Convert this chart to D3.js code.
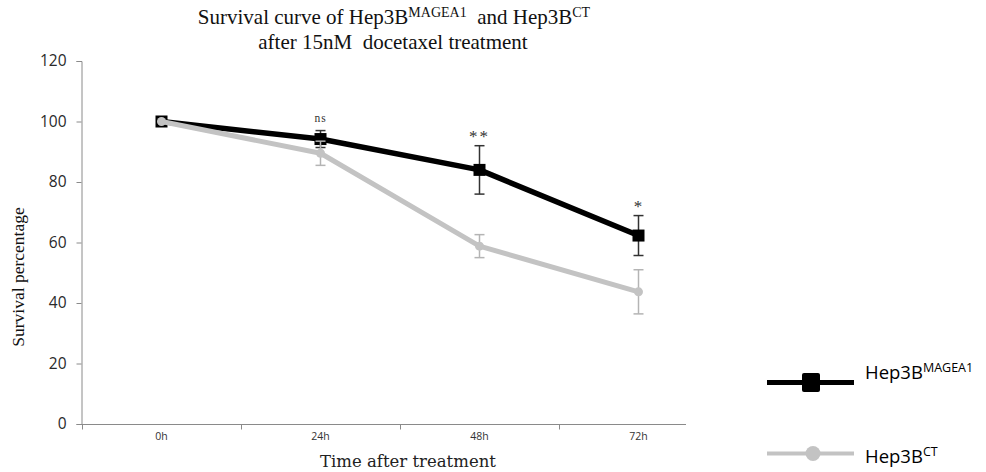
<!DOCTYPE html>
<html>
<head>
<meta charset="utf-8">
<script src="https://cdn.jsdelivr.net/npm/d3@7"></script>
<style>
  html, body { margin: 0; padding: 0; background: #fff; }
  svg { display: block; }
</style>
</head>
<body>
<svg id="chart" width="986" height="472"></svg>
<script>
// Time points after docetaxel treatment
const timepoints = ["0h", "24h", "48h", "72h"];

// Survival (%) and error for each cell line
const mageaValues = [100, 94.2, 84, 62.3];
const mageaErrors = [0, 2.8, 8, 6.6];
const ctValues = [100, 89.5, 58.8, 43.7];
const ctErrors = [0, 4, 3.8, 7.3];

// Significance marks above each time point
const significance = ["", "ns", "**", "*"];

// Y axis tick values
const yTicks = [0, 20, 40, 60, 80, 100, 120];

const svg = d3.select("#chart");

const x = d3.scaleBand().domain(timepoints).range([82, 718]).paddingInner(0).paddingOuter(0);
const y = d3.scaleLinear().domain([0, 120]).range([424, 61]);
const cx = d => x(d) + x.bandwidth() / 2;

const serif = "'Liberation Serif', 'Times New Roman', serif";
const sans = "'Open Sans', 'Liberation Sans', sans-serif";

// Title
const title = svg.append("text")
  .attr("x", 394).attr("y", 24)
  .attr("text-anchor", "middle")
  .attr("font-family", serif)
  .attr("font-size", 21)
  .attr("fill", "#111")
  .style("white-space", "pre");
title.append("tspan").text("Survival curve of Hep3B");
title.append("tspan").attr("font-size", 14).attr("dy", -7).text("MAGEA1");
title.append("tspan").attr("dy", 7).text("  and Hep3B");
title.append("tspan").attr("font-size", 14).attr("dy", -7).text("CT");

svg.append("text")
  .attr("x", 393).attr("y", 49)
  .attr("text-anchor", "middle")
  .attr("font-family", serif)
  .attr("font-size", 21)
  .attr("fill", "#111")
  .style("white-space", "pre")
  .text("after 15nM  docetaxel treatment");

// Y axis
const yAxis = svg.append("g")
  .attr("transform", "translate(81.5,0)")
  .call(d3.axisLeft(y).tickValues(yTicks).tickSize(5).tickPadding(10));
yAxis.select(".domain").attr("stroke", "#8a8a8a");
yAxis.selectAll(".tick line").attr("stroke", "#8a8a8a");
yAxis.selectAll(".tick text")
  .attr("font-family", sans)
  .attr("font-size", 15.5)
  .attr("fill", "#2a2a2a");

// X axis: line, tick marks at band boundaries, centred labels
const xAxisY = 424.5;
svg.append("line")
  .attr("x1", x.range()[0]).attr("x2", 686)
  .attr("y1", xAxisY).attr("y2", xAxisY)
  .attr("stroke", "#8a8a8a");
svg.selectAll(".xtick").data(timepoints).enter().append("line")
  .attr("class", "xtick")
  .attr("x1", d => x(d) + 0.5).attr("x2", d => x(d) + 0.5)
  .attr("y1", xAxisY).attr("y2", xAxisY + 5)
  .attr("stroke", "#8a8a8a");
svg.selectAll(".xlabel").data(timepoints).enter().append("text")
  .attr("class", "xlabel")
  .attr("x", d => cx(d)).attr("y", 440)
  .attr("text-anchor", "middle")
  .attr("font-family", sans)
  .attr("font-size", 10.5)
  .attr("fill", "#333")
  .text(d => d);

// Axis titles
svg.append("text")
  .attr("transform", "translate(24,277) rotate(-90)")
  .attr("text-anchor", "middle")
  .attr("font-family", serif)
  .attr("font-size", 17.5)
  .attr("fill", "#111")
  .text("Survival percentage");

svg.append("text")
  .attr("x", 408).attr("y", 467)
  .attr("text-anchor", "middle")
  .attr("font-family", "'DejaVu Serif', 'Liberation Serif', serif")
  .attr("font-size", 16.5)
  .attr("fill", "#222")
  .text("Time after treatment");

const line = d3.line().x((d, i) => cx(timepoints[i])).y(d => y(d));

function errorBars(values, errors, color, cls) {
  const g = svg.append("g").attr("class", cls);
  values.forEach((v, i) => {
    if (!errors[i]) return;
    const px = cx(timepoints[i]);
    const top = y(v + errors[i]), bot = y(v - errors[i]);
    g.append("line").attr("x1", px).attr("x2", px).attr("y1", top).attr("y2", bot)
      .attr("stroke", color).attr("stroke-width", 1.5);
    [top, bot].forEach(yy => g.append("line")
      .attr("x1", px - 5).attr("x2", px + 5).attr("y1", yy).attr("y2", yy)
      .attr("stroke", color).attr("stroke-width", 1.5));
  });
}

// Hep3B MAGEA1 series (black, square markers)
errorBars(mageaValues, mageaErrors, "#333", "err-magea");
svg.append("path").datum(mageaValues)
  .attr("d", line).attr("fill", "none")
  .attr("stroke", "#000").attr("stroke-width", 5.5).attr("stroke-linejoin", "round");
svg.selectAll(".sq").data(mageaValues).enter().append("rect")
  .attr("class", "sq")
  .attr("x", (d, i) => cx(timepoints[i]) - 6).attr("y", d => y(d) - 6)
  .attr("width", 12).attr("height", 12).attr("fill", "#000");

// Hep3B CT series (grey, circle markers)
errorBars(ctValues, ctErrors, "#b4b4b4", "err-ct");
svg.append("path").datum(ctValues)
  .attr("d", line).attr("fill", "none")
  .attr("stroke", "#c3c3c3").attr("stroke-width", 5).attr("stroke-linejoin", "round");
svg.selectAll(".dot").data(ctValues).enter().append("circle")
  .attr("class", "dot")
  .attr("cx", (d, i) => cx(timepoints[i])).attr("cy", d => y(d))
  .attr("r", 4.5).attr("fill", "#c3c3c3");

// Significance marks
svg.selectAll(".sig").data(significance).enter().append("text")
  .attr("class", "sig")
  .attr("x", (d, i) => cx(timepoints[i])).attr("y", (d, i) => y(mageaValues[i] + mageaErrors[i]) - (d === "ns" ? 9 : 4))
  .attr("text-anchor", "middle")
  .attr("font-family", serif)
  .attr("font-size", d => d === "ns" ? 11.5 : 17)
  .attr("fill", "#333")
  .style("letter-spacing", d => d === "**" ? "2px" : "1px")
  .text(d => d);

// Legend
const legend = svg.append("g").attr("font-family", sans);
legend.append("line").attr("x1", 767).attr("x2", 854).attr("y1", 382.5).attr("y2", 382.5)
  .attr("stroke", "#000").attr("stroke-width", 5);
legend.append("rect").attr("x", 802).attr("y", 373).attr("width", 18).attr("height", 19)
  .attr("rx", 2).attr("fill", "#000");
const l1 = legend.append("text").attr("x", 865).attr("y", 379).attr("font-size", 18.5).attr("fill", "#000");
l1.append("tspan").text("Hep3B");
l1.append("tspan").attr("font-size", 12.5).attr("dy", -7).text("MAGEA1");

legend.append("line").attr("x1", 767).attr("x2", 854).attr("y1", 453.5).attr("y2", 453.5)
  .attr("stroke", "#c3c3c3").attr("stroke-width", 4);
legend.append("circle").attr("cx", 813).attr("cy", 453.5).attr("r", 7.5).attr("fill", "#c3c3c3");
const l2 = legend.append("text").attr("x", 865).attr("y", 463).attr("font-size", 18.5).attr("fill", "#000");
l2.append("tspan").text("Hep3B");
l2.append("tspan").attr("font-size", 12.5).attr("dy", -7).text("CT");
</script>
</body>
</html>
